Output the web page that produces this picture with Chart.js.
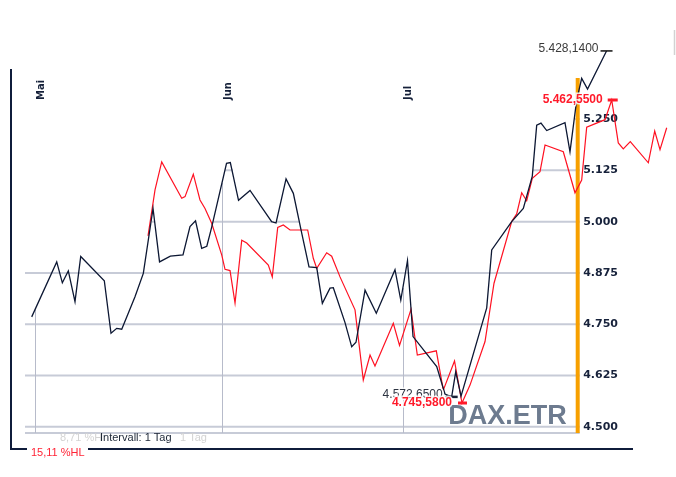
<!DOCTYPE html>
<html><head><meta charset="utf-8">
<script src="https://cdn.jsdelivr.net/npm/chart.js@4"></script>
<style>html,body{margin:0;padding:0;background:#fff}#wrap{position:relative;width:676px;height:477px}</style>
</head><body><div id="wrap"><canvas id="c" width="676" height="477"></canvas></div>
<script>
// ---- data (days counted from 1 May) ----
const monthLabels = ['Mai', 'Jun', 'Jul'];
const monthStartDays = [0, 31, 61];
const yTickValues = [4500, 4625, 4750, 4875, 5000, 5125, 5250];

const blackDays = [-0.55, 3.6, 4.53, 5.52, 6.63, 7.58, 11.49, 12.6, 13.55, 14.38, 16.58, 17.96, 19.57, 20.65, 22.44, 24.54, 25.7, 26.62, 27.64, 28.49, 29.27, 31.76, 32.39, 33.75, 35.66, 39.24, 39.97, 41.63, 42.84, 44.23, 45.44, 46.72, 47.65, 48.92, 49.47, 51.41, 52.52, 53.23, 54.73, 56.6, 59.7, 60.66, 61.77, 62.69, 66.62, 67.99, 69.1, 69.77, 70.65, 74.91, 75.74, 79.05, 80.98, 82.47, 83.2, 83.91, 84.86, 87.89, 88.72, 89.83, 90.66, 91.63, 94.78];
const blackValues = [4768, 4902, 4851, 4880, 4805, 4915, 4856, 4728, 4740, 4738, 4817, 4874, 5032, 4902, 4916, 4919, 4988, 5002, 4935, 4940, 4985, 5142, 5144, 5052, 5076, 5000, 4997, 5104, 5069, 4972, 4890, 4888, 4801, 4838, 4839, 4754, 4695, 4706, 4833, 4777, 4883, 4809, 4905, 4720, 4647, 4580, 4573, 4634, 4575, 4790, 4931, 5000, 5032, 5111, 5235, 5240, 5222, 5241, 5170, 5296, 5349, 5323, 5416];

const redDays = [18.74, 19.9, 21.01, 24.33, 24.88, 26.25, 27.36, 28.19, 29.3, 30.96, 31.51, 32.34, 33.17, 34.28, 35.11, 38.69, 39.35, 40.25, 41.18, 42.29, 45.22, 46.15, 46.72, 48.37, 49.2, 50.58, 53.07, 54.44, 55.56, 56.38, 59.42, 60.45, 62.35, 63.4, 66.55, 67.71, 69.57, 70.81, 72.14, 74.63, 76.12, 79.05, 79.88, 80.71, 81.54, 82.47, 83.75, 84.58, 87.61, 89.55, 90.66, 91.49, 94.53, 95.64, 96.73, 97.56, 98.72, 101.71, 102.77, 103.65, 104.76];
const redValues = [5141, 5250, 5316, 5230, 5234, 5287, 5226, 5206, 5171, 5096, 5062, 5059, 4982, 5131, 5124, 5072, 5044, 5161, 5167, 5155, 5155, 5088, 5064, 5101, 5093, 5044, 4966, 4800, 4859, 4833, 4934, 4882, 4967, 4859, 4869, 4776, 4845, 4745.58, 4788, 4891, 5029, 5175, 5193, 5243, 5224, 5277, 5293, 5356, 5340, 5243, 5273, 5398, 5416, 5462.55, 5361, 5347, 5364, 5314, 5389, 5345, 5397];

const blackHigh = 5428.14, blackLow = 4572.65;
const redHigh = 5462.55, redLow = 4745.58;
const markerDay = 90;
const symbolLabel = 'DAX.ETR';
const intervalLabel = 'Intervall: 1 Tag';
const rangeLabel = '15,11 %HL';
const ghostRangeLabel = '8,71 %H';
const ghostIntervalLabel = '1 Tag';

// ---- helpers ----
function fmtDE(v) {
  const [i, d] = v.toFixed(4).split('.');
  return i.replace(/\B(?=(\d{3})+(?!\d))/g, '.') + ',' + d;
}
function fmtTick(v) { return (v / 1000).toFixed(3); }
function interp(days, vals, d) {
  if (d < days[0] || d > days[days.length - 1]) return null;
  for (let i = 1; i < days.length; i++) {
    if (d <= days[i]) {
      const t = (d - days[i - 1]) / (days[i] - days[i - 1]);
      return vals[i - 1] + t * (vals[i] - vals[i - 1]);
    }
  }
  return null;
}
function argOf(arr, cmp) { let k = 0; arr.forEach((v, i) => { if (cmp(v, arr[k])) k = i; }); return k; }

const decor = {
  id: 'decor',
  beforeDatasetsDraw(chart) {
    const { ctx, chartArea: a, scales: { x: xs, y: ys } } = chart;
    const mx = xs.getPixelForValue(markerDay);
    const gl = a.left + 15, gr = mx + 2;
    ctx.save();
    // horizontal grid
    ctx.strokeStyle = '#c7cbd7';
    ctx.lineWidth = 2;
    const hv = yTickValues.concat([ys.min]);
    hv.forEach(v => {
      const py = ys.getPixelForValue(v);
      ctx.beginPath();
      if (v < 5000) { ctx.moveTo(gl, py); ctx.lineTo(gr, py); }
      else {
        let on = false;
        for (let px = gl; px <= gr; px++) {
          const bv = interp(blackDays, blackValues, xs.getValueForPixel(px));
          const above = bv !== null && bv >= v;
          if (above && !on) { ctx.moveTo(px, py); on = true; }
          else if (!above && on) { ctx.lineTo(px, py); on = false; }
        }
        if (on) ctx.lineTo(gr, py);
      }
      ctx.stroke();
    });
    // month drop lines
    ctx.strokeStyle = '#b7bbca';
    ctx.lineWidth = 1;
    monthStartDays.forEach(d => {
      const px = Math.round(xs.getPixelForValue(d)) + 0.5;
      const bv = interp(blackDays, blackValues, d);
      const top = bv !== null ? ys.getPixelForValue(bv) : a.top;
      ctx.beginPath(); ctx.moveTo(px, top); ctx.lineTo(px, a.bottom); ctx.stroke();
    });
    // orange marker bar
    ctx.fillStyle = '#f7a000';
    ctx.fillRect(mx - 2, a.top + 48, 4, a.bottom - a.top - 48);
    // watermark
    ctx.font = 'bold 27px "Liberation Sans", Arial, sans-serif';
    ctx.fillStyle = '#6d7b8f';
    ctx.textAlign = 'right';
    ctx.textBaseline = 'alphabetic';
    ctx.fillText(symbolLabel, mx - 11, a.bottom - 9);
    ctx.restore();
  },
  afterDatasetsDraw(chart) {
    const { ctx, chartArea: a, scales: { x: xs, y: ys, y2 } } = chart;
    ctx.save();
    // month labels
    ctx.font = 'bold 10px "DejaVu Sans", sans-serif';
    ctx.fillStyle = '#16213a';
    ctx.textAlign = 'left';
    ctx.textBaseline = 'middle';
    monthStartDays.forEach((d, i) => {
      const px = xs.getPixelForValue(d);
      ctx.save();
      ctx.translate(px + 6, 100);
      ctx.rotate(-Math.PI / 2);
      ctx.fillText(monthLabels[i], 0, 0);
      ctx.restore();
    });
    // extreme markers
    function marker(days, vals, scale, idx, text, opt) {
      const px = xs.getPixelForValue(days[idx]);
      const py = scale.getPixelForValue(vals[idx]);
      ctx.strokeStyle = opt.dash; ctx.lineWidth = opt.dw;
      ctx.beginPath(); ctx.moveTo(px - opt.l, py); ctx.lineTo(px + opt.r, py); ctx.stroke();
      ctx.font = opt.font;
      ctx.textAlign = 'right';
      ctx.textBaseline = 'middle';
      ctx.lineWidth = 3; ctx.strokeStyle = 'rgba(255,255,255,0.85)';
      ctx.strokeText(text, px - opt.gap, py + opt.dy);
      ctx.fillStyle = opt.color;
      ctx.fillText(text, px - opt.gap, py + opt.dy);
    }
    marker(blackDays, blackValues, ys, argOf(blackValues, (a, b) => a > b), fmtDE(blackHigh),
      { dash: '#111111', dw: 1.5, l: 6, r: 6, font: '12px "Liberation Sans", Arial, sans-serif', color: '#3a3a3a', gap: 8, dy: -2 });
    marker(redDays, redValues, y2, argOf(redValues, (a, b) => a > b), fmtDE(redHigh),
      { dash: '#ff1a2a', dw: 3, l: 4, r: 6, font: 'bold 12px "Liberation Sans", Arial, sans-serif', color: '#ff1a2a', gap: 9, dy: 0 });
    marker(blackDays, blackValues, ys, argOf(blackValues, (a, b) => a < b), fmtDE(blackLow),
      { dash: '#1a2238', dw: 2.5, l: 6, r: 6, font: '12px "Liberation Sans", Arial, sans-serif', color: '#2d3442', gap: 9, dy: -2 });
    marker(redDays, redValues, y2, argOf(redValues, (a, b) => a < b), fmtDE(redLow),
      { dash: '#ff1a2a', dw: 3, l: 4, r: 5, font: 'bold 12px "Liberation Sans", Arial, sans-serif', color: '#ff1a2a', gap: 10, dy: 0 });
    // frame
    ctx.strokeStyle = '#0f1c3b';
    ctx.lineWidth = 2;
    ctx.beginPath(); ctx.moveTo(11, 69); ctx.lineTo(11, 449); ctx.lineTo(633, 449); ctx.stroke();
    ctx.strokeStyle = '#d2d2d2'; ctx.lineWidth = 1.5;
    ctx.beginPath(); ctx.moveTo(674.5, 30); ctx.lineTo(674.5, 55); ctx.stroke();
    // bottom texts
    ctx.font = '11px "Liberation Sans", Arial, sans-serif';
    ctx.textAlign = 'left';
    ctx.textBaseline = 'middle';
    ctx.fillStyle = '#d3d3d3';
    ctx.fillText(ghostRangeLabel, 60, 438);
    ctx.fillText(ghostIntervalLabel, 180, 438);
    ctx.fillStyle = '#1c2636';
    ctx.fillText(intervalLabel, 100, 438);
    ctx.fillStyle = '#ffffff';
    ctx.fillRect(27, 445, 61, 15);
    ctx.fillStyle = '#ff2436';
    ctx.fillText(rangeLabel, 31, 453);
    ctx.restore();
  }
};

new Chart(document.getElementById('c'), {
  type: 'line',
  data: {
    datasets: [
      {
        label: 'DAX.ETR',
        data: blackDays.map((d, i) => ({ x: d, y: blackValues[i] })),
        borderColor: '#0c1733', borderWidth: 1.3, pointRadius: 0, tension: 0, yAxisID: 'y'
      },
      {
        label: 'Vergleich',
        data: redDays.map((d, i) => ({ x: d, y: redValues[i] })),
        borderColor: '#ff1122', borderWidth: 1.2, pointRadius: 0, tension: 0, yAxisID: 'y2'
      }
    ]
  },
  options: {
    responsive: false,
    animation: false,
    events: [],
    layout: { padding: { left: 10, right: 2, top: 30, bottom: 44 } },
    plugins: { legend: { display: false }, tooltip: { enabled: false } },
    scales: {
      x: { type: 'linear', min: -4.15, max: 105.97, display: false },
      y: {
        type: 'linear', position: 'right', min: 4485, max: 5467,
        grid: { display: false, drawTicks: false },
        border: { display: false },
        afterBuildTicks: s => { s.ticks = yTickValues.map(v => ({ value: v })); },
        afterFit: s => { s.width = 0; s.paddingTop = 0; s.paddingBottom = 0; },
        ticks: {
          mirror: true, padding: -56, color: '#17223b',
          font: { family: '"DejaVu Sans", sans-serif', size: 11, weight: 'bold' },
          callback: v => fmtTick(v)
        }
      },
      y2: { type: 'linear', display: false, min: 4674.6, max: 5628.2 }
    }
  },
  plugins: [decor]
});
</script></body></html>
